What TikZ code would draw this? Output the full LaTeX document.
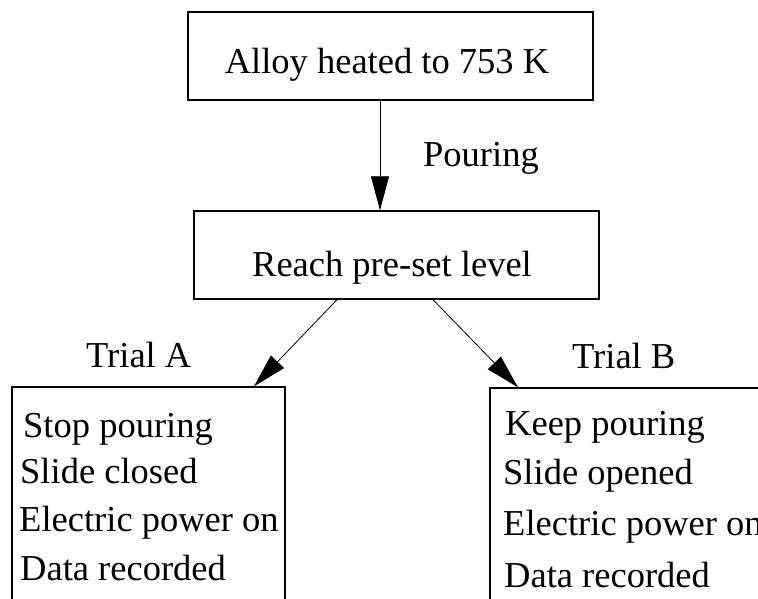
\documentclass[tikz,border=0pt]{standalone}
\usepackage{fontspec}
\setmainfont{LiberationSerif}[Extension=.ttf, UprightFont=*-Regular]
\usetikzlibrary{arrows.meta}

\tikzset{
  boxstyle/.style={draw=black, line width=1.4pt, rectangle, inner sep=0pt},
  txt/.style={font=\rmfamily\fontsize{36.5}{44}\selectfont, inner sep=0pt},
  linetxt/.style={txt, anchor=base west},
  arr/.style={draw=black, line width=0.8pt, -{Triangle[length=34pt,width=18pt]}}
}

\begin{document}
\begin{tikzpicture}[x=1pt, y=-1pt]
  % page frame
  \useasboundingbox (0,0) rectangle (758,599);
  \clip (0,0) rectangle (758,599);

  % process boxes
  \node[boxstyle, minimum width=405pt, minimum height=88pt] (heat) at (390.5,56) {};
  \node[txt, anchor=base] (heattxt) at (387,74) {Alloy heated to 753 K};

  \node[boxstyle, minimum width=405pt, minimum height=88pt] (reach) at (396.5,255) {};
  \node[txt, anchor=base] (reachtxt) at (392,276) {Reach pre-set level};

  % trial boxes (run past the page edge)
  \node[boxstyle, minimum width=273pt, minimum height=253pt] (trialA) at (148.5,513.5) {};
  \node[boxstyle, minimum width=310pt, minimum height=252pt] (trialB) at (645,514) {};

  % labels
  \node[txt, anchor=base west] (pour) at (423,167) {Pouring};
  \node[txt, anchor=base west] (labA) at (86,367) {Trial A};
  \node[txt, anchor=base west] (labB) at (572,368) {Trial B};

  % Trial A contents
  \node[linetxt] (a1) at (23,437) {Stop pouring};
  \node[linetxt] (a2) at (20,483) {Slide closed};
  \node[linetxt] (a3) at (19,531) {Electric power on};
  \node[linetxt] (a4) at (20,580) {Data recorded};

  % Trial B contents
  \node[linetxt] (b1) at (505,435) {Keep pouring};
  \node[linetxt] (b2) at (503,484) {Slide opened};
  \node[linetxt] (b3) at (503,535) {Electric power on};
  \node[linetxt] (b4) at (504,587) {Data recorded};

  % connector columns
  \coordinate (cmain) at (380,0);
  \coordinate (cAstart) at (337,0);
  \coordinate (cAend) at (254,0);
  \coordinate (cBstart) at (433,0);
  \coordinate (cBend) at (518,0);

  % connectors
  \draw[arr] (heat.south -| cmain) -- (reach.north -| cmain);
  \draw[arr] (reach.south -| cAstart) -- (trialA.north -| cAend);
  \draw[arr] (reach.south -| cBstart) -- (trialB.north -| cBend);
\end{tikzpicture}
\end{document}
